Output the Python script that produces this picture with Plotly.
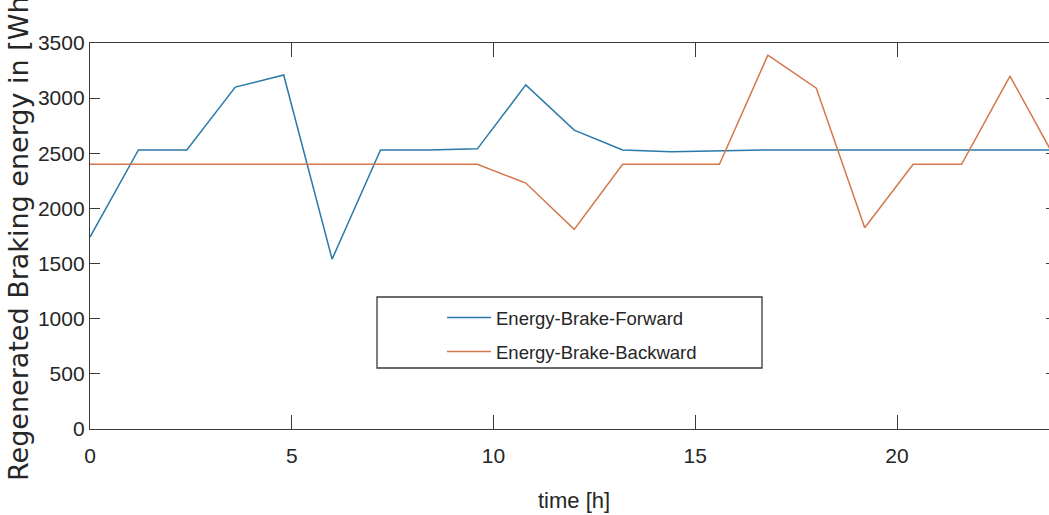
import plotly.graph_objects as go

# ---- data ----
time_h = [0, 1.2, 2.4, 3.6, 4.8, 6.0, 7.2, 8.4, 9.6, 10.8, 12.0,
          13.2, 14.4, 15.6, 16.8, 18.0, 19.2, 20.4, 21.6, 22.8, 24.0]
energy_forward = [1740, 2530, 2530, 3100, 3210, 1540, 2530, 2530, 2540, 3120, 2710,
                  2530, 2515, 2525, 2530, 2530, 2530, 2530, 2530, 2530, 2530]
energy_backward = [2400, 2400, 2405, 2400, 2400, 2400, 2400, 2400, 2400, 2230, 1810,
                   2400, 2400, 2400, 3390, 3090, 1825, 2400, 2400, 3200, 2400]
series_names = ["Energy-Brake-Forward", "Energy-Brake-Backward"]
x_ticks = [0, 5, 10, 15, 20]
y_ticks = [0, 500, 1000, 1500, 2000, 2500, 3000, 3500]
x_title = "time [h]"
y_title = "Regenerated Braking energy in [Wh]"

BLUE = "#2a79a9"
ORANGE = "#d4774c"
AX = "#3a3a3a"
TXT = "#262626"
SANS = "Liberation Sans, Arial, sans-serif"

W, H = 1049, 515
L, T, B = 90, 43, 86
px_per_h = 40.35
x_max = (W - L) / px_per_h
PH = H - T - B

fig = go.Figure()
fig.add_trace(go.Scatter(x=time_h, y=energy_forward, mode="lines", name=series_names[0],
                         line=dict(color=BLUE, width=1.5), legendgroup="a"))
fig.add_trace(go.Scatter(x=time_h, y=energy_backward, mode="lines", name=series_names[1],
                         line=dict(color=ORANGE, width=1.5), legendgroup="b"))

fig.update_layout(
    width=W, height=H,
    margin=dict(l=L, r=0, t=T, b=B),
    plot_bgcolor="white", paper_bgcolor="white",
    font=dict(family=SANS, color=TXT),
    showlegend=True,
    legend=dict(x=(442 - L) / (W - L), y=1 - (299 - T) / PH, xanchor="left", yanchor="top",
                font=dict(size=18.5, family=SANS, color=TXT),
                bgcolor="rgba(0,0,0,0)", borderwidth=0, itemwidth=44,
                traceorder="grouped", tracegroupgap=7),
    xaxis=dict(range=[0, x_max], tickvals=x_ticks, ticks="inside", ticklen=14, tickwidth=1.2,
               tickcolor=AX, showline=True, linecolor=AX, linewidth=1.3, mirror="ticks",
               showgrid=False, zeroline=False, ticklabelstandoff=8,
               tickfont=dict(size=21, family=SANS, color=TXT)),
    yaxis=dict(range=[0, 3500], tickvals=y_ticks, ticks="inside", ticklen=10, tickwidth=1.2,
               tickcolor=AX, showline=True, linecolor=AX, linewidth=1.3, mirror=False,
               showgrid=False, zeroline=False,
               tickfont=dict(size=21, family=SANS, color=TXT)),
    yaxis2=dict(range=[0, 3500], tickvals=y_ticks, overlaying="y", side="right", anchor="x",
                ticks="inside", ticklen=3, tickwidth=1.2, tickcolor=AX, showticklabels=False,
                showline=False, showgrid=False, zeroline=False),
    annotations=[
        dict(text=x_title, xref="x", x=12, yref="paper", y=0, yshift=-71,
             xanchor="center", yanchor="middle", showarrow=False,
             font=dict(size=22, family=SANS, color=TXT)),
        dict(text=y_title, xref="paper", x=0, xshift=-72, yref="paper", y=0.5, yshift=2,
             xanchor="center", yanchor="middle", textangle=-90, showarrow=False,
             font=dict(size=27, family="DejaVu Sans", color=TXT)),
    ],
    shapes=[
        dict(type="rect", xref="paper", yref="paper",
             x0=(377 - L) / (W - L), x1=(762 - L) / (W - L),
             y0=1 - (368 - T) / PH, y1=1 - (297 - T) / PH,
             line=dict(color=AX, width=1.3), fillcolor="white", layer="below"),
    ],
)
# invisible trace to activate the right-side ticks
fig.add_trace(go.Scatter(x=[None], y=[None], yaxis="y2", showlegend=False, hoverinfo="skip"))

fig.write_html("out.html")
